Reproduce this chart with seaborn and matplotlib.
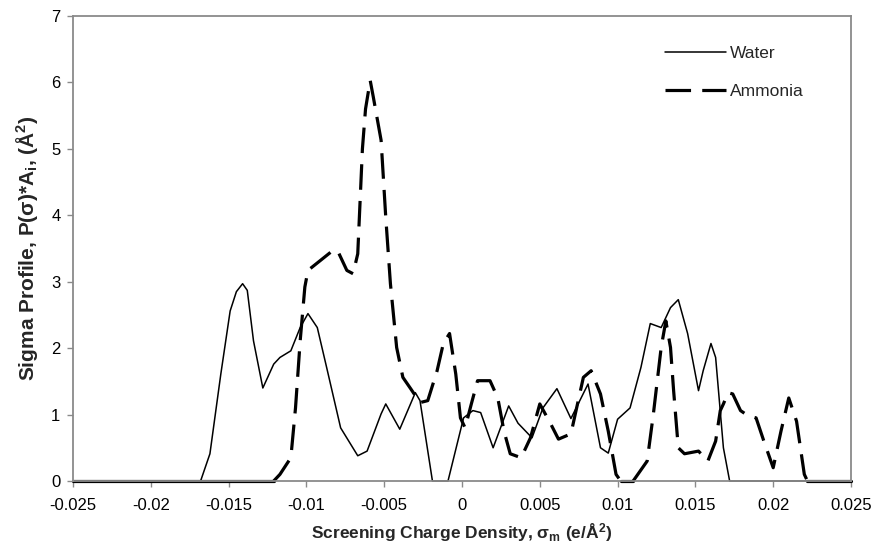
import matplotlib
matplotlib.use("Agg")
import matplotlib.pyplot as plt
import seaborn as sns
import pandas as pd

# ---- data ----
water_x = [-0.025, -0.0168, -0.0162, -0.0155, -0.0149, -0.0145, -0.0141, -0.0138, -0.0134,
           -0.0128, -0.0121, -0.0117, -0.0110, -0.0104, -0.0099, -0.0093, -0.0087, -0.0078,
           -0.0067, -0.0061, -0.0052, -0.0049, -0.0040, -0.0030, -0.0027, -0.0019, -0.0009,
           0.0001, 0.0007, 0.0012, 0.0020, 0.0030, 0.0036, 0.0045, 0.0052, 0.0061, 0.0070,
           0.0081, 0.0089, 0.0094, 0.0100, 0.0108, 0.0115, 0.0121, 0.0128, 0.0134, 0.0139,
           0.0145, 0.0152, 0.0155, 0.0160, 0.0163, 0.0168, 0.0172, 0.025]
water_y = [0, 0, 0.41, 1.61, 2.56, 2.85, 2.97, 2.87, 2.11,
           1.40, 1.76, 1.86, 1.96, 2.31, 2.52, 2.31, 1.71, 0.80,
           0.38, 0.45, 1.01, 1.16, 0.78, 1.33, 1.21, 0, 0,
           0.95, 1.06, 1.03, 0.50, 1.13, 0.87, 0.65, 1.10, 1.39, 0.94,
           1.46, 0.50, 0.42, 0.93, 1.10, 1.71, 2.37, 2.31, 2.61, 2.73,
           2.22, 1.36, 1.66, 2.07, 1.86, 0.50, 0, 0]

ammonia_x = [-0.025, -0.0121, -0.0117, -0.0110, -0.0107, -0.0104, -0.0101, -0.0099, -0.0091,
             -0.0083, -0.0080, -0.0074, -0.0070, -0.0067, -0.0064, -0.0062, -0.0059, -0.0057,
             -0.0052, -0.0049, -0.0046, -0.0042, -0.0038, -0.0033, -0.0027, -0.0022, -0.0016,
             -0.0012, -0.0008, -0.0004, -0.0001, 0.0002, 0.0006, 0.0010, 0.0018, 0.0023,
             0.0027, 0.0031, 0.0038, 0.0044, 0.0050, 0.0057, 0.0062, 0.0070, 0.0078, 0.0083,
             0.0089, 0.0094, 0.0099, 0.0102, 0.0110, 0.0119, 0.0123, 0.0128, 0.0131, 0.0134,
             0.0136, 0.0139, 0.0143, 0.0152, 0.0158, 0.0163, 0.0166, 0.0168, 0.0171, 0.0174,
             0.0179, 0.0184, 0.0189, 0.0194, 0.0200, 0.0205, 0.0210, 0.0215, 0.0220, 0.0222,
             0.025]
ammonia_y = [0, 0, 0.10, 0.35, 1.10, 2.11, 2.92, 3.17, 3.32,
             3.47, 3.47, 3.17, 3.12, 3.42, 5.00, 5.60, 6.03, 5.78,
             5.13, 3.97, 2.97, 2.01, 1.56, 1.39, 1.18, 1.21, 1.66,
             2.07, 2.22, 1.61, 0.95, 0.80, 1.16, 1.51, 1.51, 1.25,
             0.75, 0.41, 0.35, 0.65, 1.16, 0.86, 0.63, 0.71, 1.56, 1.66,
             1.31, 0.75, 0.10, 0, 0, 0.30, 1.01, 2.01, 2.41, 2.01,
             1.36, 0.50, 0.41, 0.45, 0.30, 0.60, 1.06, 1.16, 1.33, 1.31,
             1.06, 0.98, 0.95, 0.60, 0.20, 0.75, 1.25, 0.90, 0.10, 0,
             0]

x_ticks = [-0.025, -0.02, -0.015, -0.01, -0.005, 0, 0.005, 0.01, 0.015, 0.02, 0.025]
x_ticklabels = ["-0.025", "-0.02", "-0.015", "-0.01", "-0.005", "0", "0.005", "0.01",
                "0.015", "0.02", "0.025"]
y_ticks = [0, 1, 2, 3, 4, 5, 6, 7]
series_labels = ["Water", "Ammonia"]

water = pd.DataFrame({"x": water_x, "y": water_y})

# split the ammonia profile into flat-zero stretches (rendered continuous)
# and the varying stretches (rendered dashed)
runs = []
for i in range(len(ammonia_x) - 1):
    is_zero = ammonia_y[i] == 0 and ammonia_y[i + 1] == 0
    if runs and runs[-1][0] == is_zero:
        runs[-1][1].append(i + 1)
    else:
        runs.append((is_zero, [i, i + 1]))
dashed_rows, solid_rows = [], []
for k, (is_zero, idx) in enumerate(runs):
    target = solid_rows if is_zero else dashed_rows
    for j in idx:
        target.append({"x": ammonia_x[j], "y": ammonia_y[j], "run": k})
ammonia_dashed = pd.DataFrame(dashed_rows)
ammonia_solid = pd.DataFrame(solid_rows)

sns.set_style("white")
plt.rcParams["font.family"] = ["Liberation Sans", "DejaVu Sans"]
plt.rcParams["mathtext.fontset"] = "custom"
plt.rcParams["mathtext.rm"] = "Liberation Sans:bold"
plt.rcParams["mathtext.it"] = "Liberation Sans:bold"
plt.rcParams["mathtext.bf"] = "Liberation Sans:bold"
plt.rcParams["mathtext.default"] = "bf"

fig = plt.figure(figsize=(8.76, 5.52), dpi=100)
ax = fig.add_axes([73 / 876, 1 - 481 / 552, (851 - 73) / 876, (481 - 16) / 552])

AMM_LW = 2.3
sns.lineplot(data=water, x="x", y="y", ax=ax, color="black", linewidth=1.1,
             sort=False, estimator=None, legend=False)
water_line = ax.lines[-1]

n0 = len(ax.lines)
sns.lineplot(data=ammonia_dashed, x="x", y="y", units="run", ax=ax, color="black",
             linewidth=AMM_LW, sort=False, estimator=None, legend=False)
dashed_lines = ax.lines[n0:]
for ln in dashed_lines:
    ln.set_dashes((8, 3.5))

sns.lineplot(data=ammonia_solid, x="x", y="y", units="run", ax=ax, color="black",
             linewidth=AMM_LW, sort=False, estimator=None, legend=False)

for ln in ax.lines:
    ln.set_clip_on(False)

ax.set_xlim(-0.025, 0.025)
ax.set_ylim(0, 7)
ax.set_xticks(x_ticks)
ax.set_xticklabels(x_ticklabels)
ax.set_yticks(y_ticks)

for s in ax.spines.values():
    s.set_color("#8a8a8a")
    s.set_linewidth(1.3)

ax.tick_params(axis="both", direction="out", length=4, width=1, color="#8a8a8a",
               labelsize=12, labelcolor="black")
ax.tick_params(axis="x", bottom=True, pad=8)
ax.tick_params(axis="y", left=True, pad=5)

ax.set_xlabel("Screening Charge Density, σ$_{m}$ (e/Å$^{2}$)", fontsize=12.5,
              fontweight="bold", labelpad=6)
ax.set_ylabel("Sigma Profile, P(σ)*A$_{i}$, (Å$^{2}$)", fontsize=15,
              fontweight="bold", labelpad=8)

leg = ax.legend(handles=[water_line, dashed_lines[0]], labels=series_labels,
                loc="upper left", bbox_to_anchor=(665 / 876, 1 - 46 / 552),
                bbox_transform=fig.transFigure, frameon=False, borderaxespad=0,
                borderpad=0, handlelength=3.5, handletextpad=0.25, labelspacing=1.3,
                fontsize=12.5)

fig.savefig("out.png", dpi=100)
